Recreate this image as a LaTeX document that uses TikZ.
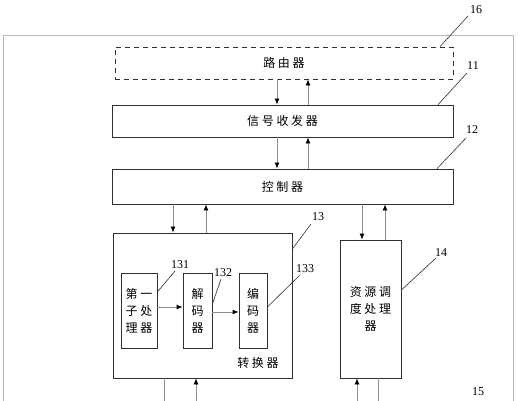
\documentclass[tikz,border=0pt]{standalone}
\usepackage{fontspec}
\setmainfont{Liberation Serif}
\newfontfamily\cjk{Noto Sans CJK SC}[LetterSpace=22]
\usetikzlibrary{arrows.meta}
\definecolor{framegray}{HTML}{B8B8B8}
\definecolor{linegray}{HTML}{8C8C8C}
\definecolor{boxline}{HTML}{303030}
\tikzset{
  box/.style={draw=boxline, line width=0.8pt, rectangle, inner sep=0pt, font=\cjk\fontsize{12}{17}\selectfont, align=center},
  dbox/.style={box, dashed, dash pattern=on 5pt off 4pt},
  arr/.style={draw=linegray, line width=0.8pt, -{Latex[color=black,length=6pt,width=5pt]}},
  plain/.style={draw=linegray, line width=0.8pt},
  lead/.style={draw=boxline, line width=0.6pt},
  lab/.style={font=\fontsize{12}{12}\selectfont, inner sep=1pt},
  ctext/.style={font=\cjk\fontsize{12}{17}\selectfont}
}
\begin{document}
\begin{tikzpicture}[x=1pt,y=-1pt]
\useasboundingbox (0,0) rectangle (518,400);
\clip (0,0) rectangle (518,400);
\fill[white] (0,0) rectangle (518,400);
% outer frame
\draw[framegray, line width=1pt] (3,420) -- (3,35) -- (513,35) -- (513,420);
% boxes
\node[dbox, minimum width=338pt, minimum height=32pt] (router) at (284,63) {路由器};
\node[box, minimum width=341pt, minimum height=32pt] (trx) at (282.5,121) {信号收发器};
\node[box, minimum width=341pt, minimum height=35pt] (ctrl) at (282.5,186.5) {控制器};
\node[box, minimum width=179pt, minimum height=145pt] (conv) at (202.5,305.5) {};
\node[box, minimum width=61pt, minimum height=138pt] (res) at (370.5,309) {资源调\\度处理\\器};
\node[box, minimum width=36pt, minimum height=75pt] (s131) at (139,310.5) {第一\\子处\\理器};
\node[box, minimum width=29pt, minimum height=75pt] (s132) at (197.5,310.5) {解\\码\\器};
\node[box, minimum width=28pt, minimum height=75pt] (s133) at (253,310.5) {编\\码\\器};
\node[ctext] (convtxt) at (258,363) {转换器};
% arrows router <-> transceiver
\draw[arr] (router.south -| 277,0) -- (trx.north -| 277,0);
\draw[arr] (trx.north -| 308,0) -- (router.south -| 308,0);
% transceiver <-> controller
\draw[arr] (trx.south -| 277,0) -- (ctrl.north -| 277,0);
\draw[arr] (ctrl.north -| 308,0) -- (trx.south -| 308,0);
% controller <-> converter
\draw[arr] (ctrl.south -| 173,0) -- (conv.north -| 173,0);
\draw[arr] (conv.north -| 206,0) -- (ctrl.south -| 206,0);
% controller <-> resource
\draw[arr] (ctrl.south -| 362,0) -- (res.north -| 362,0);
\draw[arr] (res.north -| 385,0) -- (ctrl.south -| 385,0);
% inner arrows
\draw[arr] (s131.east |- 0,307) -- (s132.west |- 0,307);
\draw[arr] (s132.east |- 0,312) -- (s133.west |- 0,312);
% bottom connections
\coordinate (b1) at (164,410);
\coordinate (b2) at (196,410);
\coordinate (b3) at (357,410);
\coordinate (b4) at (378,410);
\draw[plain] (conv.south -| b1) -- (b1);
\draw[arr] (b2) -- (conv.south -| b2);
\draw[arr] (b3) -- (res.south -| b3);
\draw[plain] (res.south -| b4) -- (b4);
% labels
\node[lab] (l16) at (476,10) {16};
\node[lab] (l11) at (473,66) {11};
\node[lab] (l12) at (472,130) {12};
\node[lab] (l13) at (318,217) {13};
\node[lab] (l14) at (441,253) {14};
\node[lab] (l131) at (180,265) {131};
\node[lab] (l132) at (223,273) {132};
\node[lab] (l133) at (305,269) {133};
\node[lab] (l15) at (478,392) {15};
% leaders
\draw[lead] (router.north -| 440,0) -- (468,16);
\draw[lead] (trx.north -| 438,0) -- (467,73);
\draw[lead] (ctrl.north -| 437,0) -- (466,138);
\draw[lead] (conv.east |- 0,249) -- (311,224);
\draw[lead] (res.east |- 0,290) -- (436,258);
\draw[lead] (s131.east |- 0,292) -- (175,271);
\draw[lead] (s132.east |- 0,304) -- (221,279);
\draw[lead] (s133.east |- 0,307) -- (300,275);
\end{tikzpicture}
\end{document}
